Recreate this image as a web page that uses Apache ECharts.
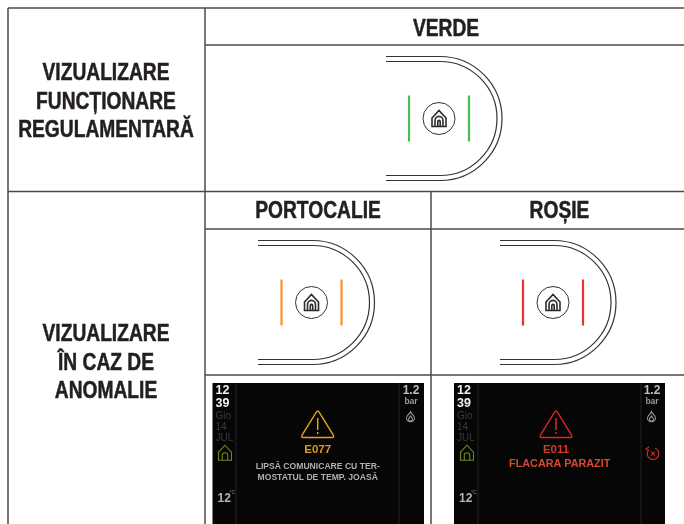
<!DOCTYPE html>
<html>
<head>
<meta charset="utf-8">
<style>
	html,body{margin:0;padding:0;background:#fff}
	#chart{width:684px;height:524px}
</style>
<script src="https://cdn.jsdelivr.net/npm/echarts@6/dist/echarts.min.js"></script>
</head>
<body>
<div id="chart"></div>
<script>
var rowTitleTop = ['VIZUALIZARE','FUNCȚIONARE','REGULAMENTARĂ'];
var rowTitleBottom = ['VIZUALIZARE','ÎN CAZ DE','ANOMALIE'];
var colTitles = ['VERDE','PORTOCALIE','ROȘIE'];
var ledColors = ['#43bf4f','#f59231','#ee2f36'];
var clockLabels = ['12','39'];
var dateLabels = ['Gio','14','JUL'];
var pressureLabels = ['1.2','bar'];
var tempLabel = '12';
var tempUnit = '°C';
var orangeCode = 'E077';
var orangeLines = ['LIPSĂ COMUNICARE CU TER-','MOSTATUL DE TEMP. JOASĂ'];
var redCode = 'E011';
var redLines = ['FLACARA PARAZIT'];

var FONT = '"Liberation Sans",Arial,sans-serif';
var HOUSE = 'M1 8 L8 1 L15 8 L15 16 L1 16 Z M4 16 L4 10.5 A4 4 0 0 1 12 10.5 L12 16 M6.8 16 L6.8 11.5 A1.2 1.2 0 0 1 9.2 11.5 L9.2 16';
var els = [];
var pathEls = [];

function line(x1,y1,x2,y2,color,w){
	els.push({type:'line',shape:{x1:x1,y1:y1,x2:x2,y2:y2},style:{stroke:color,lineWidth:w}});
}
function label(text,x,y,size,color,opt){
	opt = opt || {};
	els.push({type:'text',x:x,y:y+(opt.dy||0),scaleX:opt.scaleX||1,z:5,style:{
		text:text,fill:color,align:opt.align||'center',verticalAlign:'middle',
		stroke:opt.thick?color:null,lineWidth:opt.thick||0,
		font:(opt.weight||'bold')+' '+size+'px '+FONT
	}});
}
function svg(path,cx,cy,w,h,stroke,lw){
	pathEls.push({type:'path',shape:{pathData:path,x:cx-w/2,y:cy-h/2,width:w,height:h,layout:'cover'},
		style:{stroke:stroke,lineWidth:lw,fill:'none'}});
}
// pannello a D con i due led
function dShape(left,cx,cy,color){
	[62,57].forEach(function(R){
		var d = 'M'+left+' '+(cy-R)+' L'+cx+' '+(cy-R)+' A'+R+' '+R+' 0 0 1 '+cx+' '+(cy+R)+' L'+left+' '+(cy+R);
		svg(d,(left+cx+R)/2,cy,cx+R-left,R*2,'#333',1.2);
	});
	line(cx-31,cy-23,cx-31,cy+23,color,2.2);
	line(cx+29,cy-23,cx+29,cy+23,color,2.2);
	els.push({type:'circle',shape:{cx:cx-1,cy:cy,r:16},style:{stroke:'#333',lineWidth:1,fill:'#fff'}});
	svg(HOUSE,cx-1,cy,14,16,'#2b2b2b',1.6);
}
// display nero
function panel(left,divA,divB,right,code,codeColor,codeX,lines,lineColor,lineSize,triColor,triX,lineX,lineY){
	els.push({type:'rect',shape:{x:left,y:383,width:right-left,height:141},style:{fill:'#060606'}});
	line(divA,383,divA,524,'#222',1);
	line(divB,383,divB,524,'#222',1);
	clockLabels.forEach(function(t,i){label(t,left+3,390+i*13,12.5,'#f2f2f2',{align:'left',dy:0.5});});
	dateLabels.forEach(function(t,i){label(t,left+3,415+i*11,10,'#3a3a3a',{align:'left',weight:'normal',dy:1});});
	svg('M1 8 L7 1 L13 8 L13 16 L1 16 Z M4.5 16 L4.5 11 A2.5 2.5 0 0 1 9.5 11 L9.5 16',divA-11,452.7,13,15,'#6d8a22',1.1);
	label(tempLabel,left+5,497.5,12,'#b5b5b5',{align:'left',dy:1});
	label(tempUnit,left+17,493,5,'#888',{align:'left',weight:'normal'});
	label(pressureLabels[0],right-13,390,12,'#bdbdbd',{dy:0.5});
	label(pressureLabels[1],right-13,401,8.5,'#9a9a9a',{dy:1});
	svg('M5 0 C6 3 10 5 10 9 A5 5 0 0 1 0 9 C0 5 4 3 5 0 Z M5 6 C6 8 7.5 9 7.5 10.5 A2.5 2.5 0 0 1 2.5 10.5 C2.5 9 4 8 5 6 Z',right-13.5,416.7,8,10,'#9a9a9a',1.1);
	// triangolo di allarme
	svg('M16 1 Q17 1 18 3 L31 23 Q33 26 30 26 L2 26 Q-1 26 1 23 L14 3 Q15 1 16 1 Z',triX,424.3,32,26.5,triColor,1.4);
	line(triX,418,triX,430,triColor,1.5);
	line(triX,432,triX,434,triColor,1.5);
	label(code,codeX,449.3,11.5,codeColor,{dy:1});
	lines.forEach(function(t,i){label(t,lineX,lineY+i*11.2,lineSize,lineColor,{dy:1});});
}

// griglia della tabella
var GRID = '#4a4a4a';
line(8,8,684,8,GRID,1.5);
line(8,8,8,524,GRID,1.5);
line(205,8,205,524,GRID,1.5);
line(205,45,684,45,GRID,1.5);
line(8,191.5,684,191.5,GRID,1.5);
line(205,229,684,229,GRID,1.5);
line(431,191.5,431,524,GRID,1.5);
line(205,375,684,375,GRID,1.5);

var titleOpt = {scaleX:0.835,dy:2,thick:0.5};
rowTitleTop.forEach(function(t,i){label(t,106,72+i*28.2,23,'#231f20',titleOpt);});
rowTitleBottom.forEach(function(t,i){label(t,106,333+i*28.5,23,'#231f20',titleOpt);});
label(colTitles[0],446,28,23,'#231f20',titleOpt);
label(colTitles[1],318,210,23,'#231f20',titleOpt);
label(colTitles[2],559.5,210,23,'#231f20',titleOpt);

dShape(386,440,118.5,ledColors[0]);
dShape(258,312.5,302.5,ledColors[1]);
dShape(500,554,302.5,ledColors[2]);

panel(212.5,236,399,424,orangeCode,'#e39a14',317.7,orangeLines,'#b0b0b0',8.6,'#e5a11e',317.7,317.7,465.7);
panel(454,478,641,665,redCode,'#d9372a',556,redLines,'#d9472f',10.8,'#d9262c',556,559.7,463);

// icona reset del display rosso
els.push({type:'arc',z:5,shape:{cx:653,cy:453.7,r:5.8,startAngle:-1.2,endAngle:3.6},style:{stroke:'#d9262c',lineWidth:1.2,fill:null}});
svg('M0 0 L4 4 M4 0 L0 4',653,453.7,4,4,'#d9262c',1.1);
svg('M3 0 L0 2 L3 4',647.5,449,3,4,'#d9262c',1.1);

var myChart = echarts.init(document.getElementById('chart'),null,{renderer:'canvas'});
myChart.setOption({
	animation:false,
	backgroundColor:'#fff',
	graphic:{elements:els},
	series:[{
		type:'custom',
		coordinateSystem:'none',
		silent:true,
		data:[0],
		renderItem:function(){
			return {type:'group',children:pathEls};
		}
	}]
});
</script>
</body>
</html>
